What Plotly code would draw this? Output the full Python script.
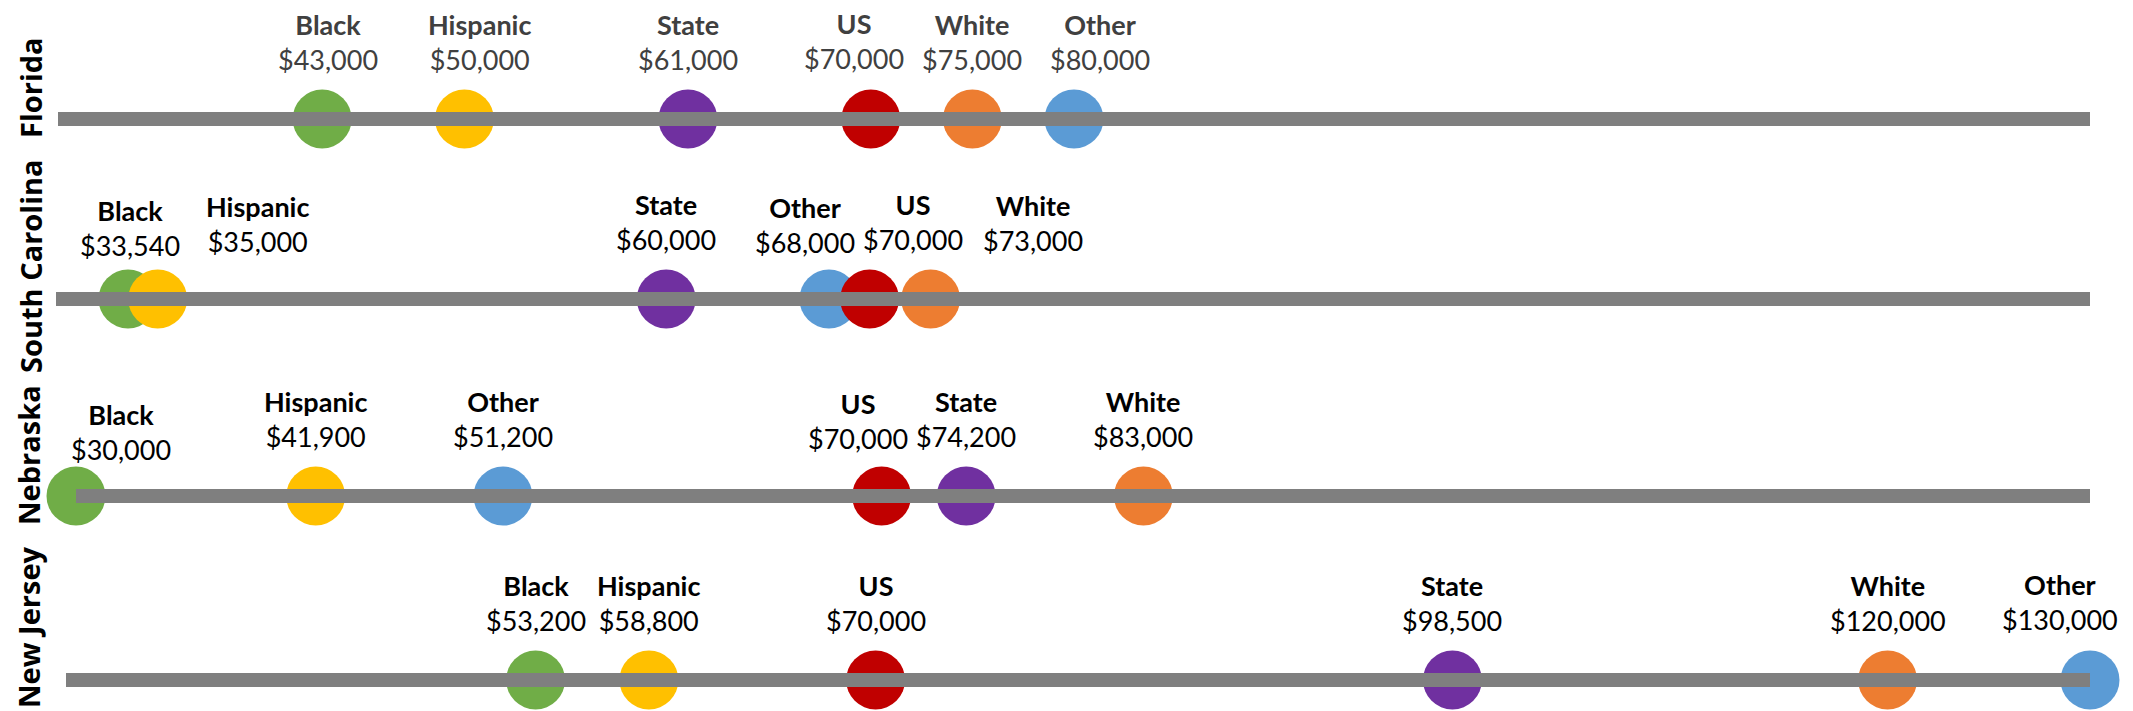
import plotly.graph_objects as go

# ---------------- data ----------------
states = ["Florida", "South Carolina", "Nebraska", "New Jersey"]
categories = ["Black", "Hispanic", "State", "Other", "US", "White"]  # drawing order

florida_values = {"Black": 43000, "Hispanic": 50000, "State": 61000, "Other": 80000, "US": 70000, "White": 75000}
south_carolina_values = {"Black": 33540, "Hispanic": 35000, "State": 60000, "Other": 68000, "US": 70000, "White": 73000}
nebraska_values = {"Black": 30000, "Hispanic": 41900, "State": 74200, "Other": 51200, "US": 70000, "White": 83000}
new_jersey_values = {"Black": 53200, "Hispanic": 58800, "State": 98500, "Other": 130000, "US": 70000, "White": 120000}
state_values = [florida_values, south_carolina_values, nebraska_values, new_jersey_values]

axis_min = 30000
axis_max = 130000

# ---------------- styles / layout ----------------
W, H = 2133, 711
colors = {"Black": "#70AD47", "Hispanic": "#FFC000", "State": "#7030A0",
          "Other": "#5B9BD5", "US": "#C00000", "White": "#ED7D31"}
label_colors = ["#404040", "#000000", "#000000", "#000000"]
row_line_px = [119, 299, 496, 680]          # vertical centre of each row (px from top)
row_left_px = [58, 56, 76, 66]              # left edge of each row's plot area
row_right_px = 2090
row_title_px = [(30, 88), (30, 266), (28, 455), (28, 627)]
default_label_dy = 77
label_shift = {  # (row, category): (dx, dy)
    (0, "Black"): (6, 77), (0, "Hispanic"): (15, 77), (0, "US"): (-17, 78), (0, "Other"): (26, 77),
    (1, "Black"): (2, 71), (1, "Hispanic"): (100, 75), (1, "Other"): (-24, 74), (1, "US"): (43, 77),
    (1, "White"): (102, 76),
    (2, "Black"): (45, 64), (2, "US"): (-24, 75),
    (3, "Other"): (-30, 78),
}
label_font = "Lato, 'Open Sans', sans-serif"
title_font = "'Open Sans', 'Liberation Sans', sans-serif"

fig = go.Figure()
annotations = []
layout_axes = {}

for i, (state, vals) in enumerate(zip(states, state_values)):
    n = i + 1
    xa = "x" if n == 1 else f"x{n}"
    ya = "y" if n == 1 else f"y{n}"
    xs = [vals[c] for c in categories]
    fig.add_trace(go.Scatter(
        x=xs, y=[0] * len(xs), mode="markers", xaxis=xa, yaxis=ya,
        marker=dict(size=59, color=[colors[c] for c in categories], line=dict(width=0)),
        cliponaxis=False, hoverinfo="skip", showlegend=False))
    fig.add_trace(go.Scatter(
        x=[axis_min, axis_max], y=[0, 0], mode="lines", xaxis=xa, yaxis=ya,
        line=dict(color="#7F7F7F", width=14), hoverinfo="skip", showlegend=False))

    yc = row_line_px[i]
    layout_axes[("xaxis" if n == 1 else f"xaxis{n}")] = dict(
        domain=[row_left_px[i] / W, row_right_px / W], range=[axis_min, axis_max],
        visible=False, anchor=ya, fixedrange=True)
    layout_axes[("yaxis" if n == 1 else f"yaxis{n}")] = dict(
        domain=[1 - (yc + 30) / H, 1 - (yc - 30) / H], range=[-1, 1],
        visible=False, anchor=xa, fixedrange=True)

    for c in categories:
        dx, dy = label_shift.get((i, c), (0, default_label_dy))
        annotations.append(dict(
            xref=xa, yref=ya, x=vals[c], y=0, xanchor="center", yanchor="middle",
            xshift=dx, yshift=dy, showarrow=False, align="center",
            text=f"<b>{c}</b><br>${vals[c]:,}",
            font=dict(family=label_font, size=27, color=label_colors[i])))

    tx, ty = row_title_px[i]
    annotations.append(dict(
        xref="paper", yref="paper", x=tx / W, y=1 - ty / H, xanchor="center", yanchor="middle",
        showarrow=False, textangle=-90, text=f"<b>{state}</b>",
        font=dict(family=title_font, size=29, color="#000000")))

fig.update_layout(
    width=W, height=H, margin=dict(l=0, r=0, t=0, b=0),
    paper_bgcolor="white", plot_bgcolor="rgba(0,0,0,0)",
    showlegend=False, annotations=annotations, **layout_axes)

fig.write_html("out.html", config={"displayModeBar": False},
               post_script="document.body.style.margin='0px';document.body.style.overflow='hidden';")
